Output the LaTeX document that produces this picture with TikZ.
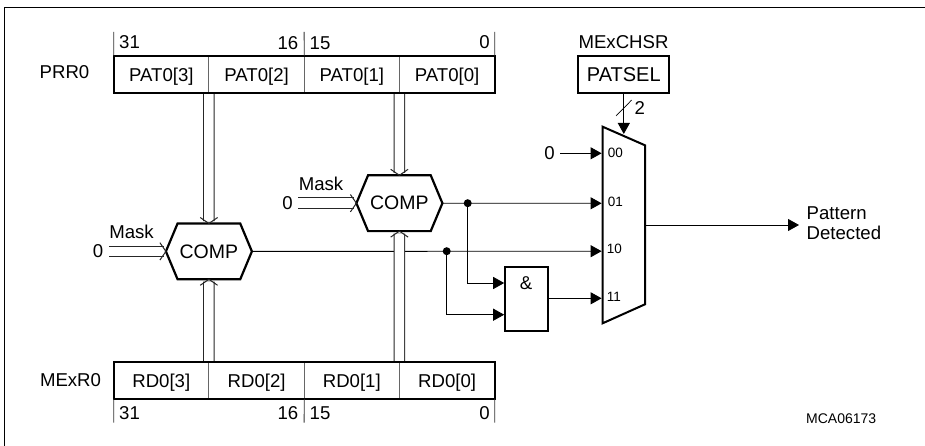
\documentclass[tikz,border=0pt]{standalone}
\usepackage{fontspec}
\setmainfont{Liberation Sans}
\usetikzlibrary{arrows.meta,shapes.misc}
\tikzset{
  regcell/.style={draw=black!60, line width=1pt, minimum width=95.25pt, minimum height=37pt,
    inner sep=0pt, outer sep=0pt, text height=15pt, text depth=0pt},
  regframe/.style={line width=2pt},
  tickline/.style={line width=.8pt, black!80},
  wire/.style={line width=.9pt, -{Triangle[length=11pt,width=12pt]}},
  busline/.style={line width=1pt, black!85},
  comp/.style={draw, line width=2.2pt, chamfered rectangle, chamfered rectangle angle=22.7,
    chamfered rectangle xsep=8.8pt, chamfered rectangle ysep=21pt, minimum width=86pt,
    minimum height=42pt, inner sep=0pt, outer sep=0pt, font=\fontsize{19.5}{22}\selectfont},
  thickbox/.style={draw, line width=2pt, inner sep=0pt, outer sep=0pt},
  muxtext/.style={anchor=west, inner sep=0pt, font=\fontsize{13.5}{15}\selectfont},
  bitzero/.style={inner xsep=5.5pt, inner ysep=0pt},
  junction/.style={circle, fill, inner sep=0pt, minimum size=8pt}
}
\newcommand{\buslink}[3]{%
  \draw[busline, double, double distance=9.4pt, shorten >=2.4pt] (#1) -- (#2);
  \draw[busline, shift={(#2)}, rotate=#3] (-6,8.7) -- (0,0) -- (-6,-8.7);
}
\begin{document}
\begin{tikzpicture}[x=1pt, y=-1pt, inner sep=0pt, every node/.style={font=\fontsize{18.6}{19.7}\selectfont}]
  \useasboundingbox (0,0) rectangle (925,446);
  \draw[line width=1.3pt] (4.5,446) -- (4.5,7.3) -- (925,7.3);

  % registers
  \node[regcell] (pat3) at (161.3,74.2) {PAT0[3]};
  \node[regcell] (pat2) at (256.6,74.2) {PAT0[2]};
  \node[regcell] (pat1) at (351.8,74.2) {PAT0[1]};
  \node[regcell] (pat0) at (447.1,74.2) {PAT0[0]};
  \node[regcell] (rd3) at (161.3,380.3) {RD0[3]};
  \node[regcell] (rd2) at (256.6,380.3) {RD0[2]};
  \node[regcell] (rd1) at (351.8,380.3) {RD0[1]};
  \node[regcell] (rd0) at (447.1,380.3) {RD0[0]};
  \node (prr) at (64.5,72) {PRR0};
  \node (mexr) at (70.5,380) {MExR0};

  % compare, select and gate
  \node[comp] (compa) at (208.9,251.4) {COMP};
  \node[comp] (compb) at (399.4,203.2) {COMP};
  \node[thickbox, minimum width=91pt, minimum height=37pt] (patsel) at (623.8,74.6)
    {\fontsize{20}{22}\selectfont PATSEL};
  \node (mexchsr) at (623.5,42.3) {MExCHSR};
  \node[thickbox, minimum width=43pt, minimum height=63.7pt] (andg) at (526.2,298.8) {};
  \node (amp) at (526,282.7) {\&};

  % multiplexer
  \coordinate (mtl) at (602.6,126.7); \coordinate (mtr) at (645,145.3);
  \coordinate (mbr) at (645,304.3); \coordinate (mbl) at (602.6,323.3);
  \draw[line width=2pt, line join=miter] (mtl)--(mtr)--(mbr)--(mbl)--cycle;
  \coordinate (m00) at (601.6,153.3); \coordinate (m01) at (601.6,203.3);
  \coordinate (m10) at (601.6,251.2); \coordinate (m11) at (601.6,298.3);
  \coordinate (mout) at (645,225); \coordinate (msel) at (623.8,134);
  \node[muxtext] (t00) at (607.7,153) {00};
  \node[muxtext] (t01) at (607.7,201.7) {01};
  \node[muxtext] (t10) at (606.7,249.3) {10};
  \node[muxtext] (t11) at (606.7,297) {11};

  % inputs and output
  \node[bitzero] (zm) at (549.5,153.3) {0};
  \node[bitzero] (za) at (98,251.4) {0};
  \node[bitzero] (zb) at (287.5,203.2) {0};
  \node (maska) at (131.5,231.7) {Mask};
  \node (maskb) at (321,184) {Mask};
  \node[anchor=west, inner xsep=7.5pt, align=left] (detect) at (799,223) {Pattern\\Detected};

  % wires
  \node[junction] (dotb) at (467.7,203.2) {};
  \node[junction] (dota) at (446.7,251.2) {};
  \coordinate (anda) at (504.2,283); \coordinate (andb) at (504.2,314.7);
  \draw[wire] (zm.east) -- (m00);
  \draw[wire] (compb.east) -- (m01);
  \draw[wire] (compa.east) -- (m10);
  \draw[wire] (dotb) |- (anda);
  \draw[wire] (dota) |- (andb);
  \draw[wire] (andg.east |- m11) -- (m11);
  \draw[wire] (patsel.south) -- (msel);
  \draw[wire] (mout) -- (mout -| detect.west);
  \coordinate (slasha) at (616,116); \coordinate (slashb) at (631.7,100);
  \draw[line width=.7pt] (slasha) -- (slashb);
  \node (two) at (639.7,107.7) {2};

  % buses
  \buslink{pat3.south east}{compa.north}{-90}
  \buslink{pat1.south east}{compb.north}{-90}
  \buslink{rd3.north east}{compa.south}{90}
  \buslink{rd1.north east}{compb.south}{90}
  \buslink{za.east}{compa.west}{0}
  \buslink{zb.east}{compb.west}{0}

  % frames and bit ranges
  \draw[regframe] (pat3.north west) rectangle (pat0.south east);
  \draw[regframe] (rd3.north west) rectangle (rd0.south east);
  \coordinate (ta) at (113.7,32); \coordinate (tb) at (304.1,32); \coordinate (tc) at (494.7,32);
  \coordinate (ba) at (113.7,422.7); \coordinate (bb) at (304.1,422.7); \coordinate (bc) at (494.7,422.7);
  \draw[tickline] (ta) -- (pat3.north west);
  \draw[tickline] (tb) -- (pat2.north east);
  \draw[tickline] (tc) -- (pat0.north east);
  \draw[tickline] (ba) -- (rd3.south west);
  \draw[tickline] (bb) -- (rd2.south east);
  \draw[tickline] (bc) -- (rd0.south east);
  \node[anchor=west] (ua) at (119,42.5) {31};
  \node[anchor=east] (ub) at (298.5,43.5) {16};
  \node[anchor=west] (uc) at (309.5,43.5) {15};
  \node[anchor=east] (ud) at (490,42.5) {0};
  \node[anchor=west] (la) at (119,413.5) {31};
  \node[anchor=east] (lb) at (298.5,413.5) {16};
  \node[anchor=west] (lc) at (309.5,413.5) {15};
  \node[anchor=east] (ld) at (490,413.5) {0};
  \node[anchor=west, font=\fontsize{14}{16}\selectfont] (code) at (806,418.7) {MCA06173};
\end{tikzpicture}
\end{document}
